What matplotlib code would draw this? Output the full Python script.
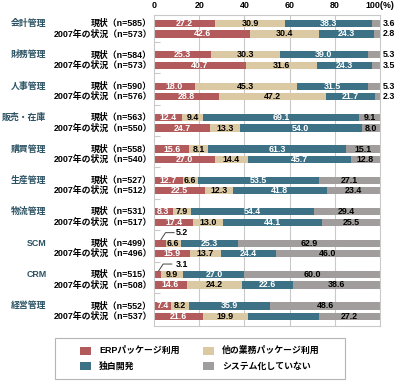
import matplotlib
matplotlib.use("Agg")
import matplotlib.pyplot as plt
import matplotlib.transforms as mtransforms
from matplotlib.patches import Rectangle

plt.rcParams['font.family'] = ['Liberation Sans', 'Noto Sans CJK JP', 'DejaVu Sans']
plt.rcParams['font.weight'] = 'bold'

# ---------------- data ----------------
categories = ["会計管理", "財務管理", "人事管理", "販売・在庫", "購買管理",
              "生産管理", "物流管理", "SCM", "CRM", "経営管理"]
row_names = ["現状", "2007年の状況"]
n_now = [585, 584, 590, 563, 558, 527, 531, 499, 515, 552]
n_2007 = [573, 573, 576, 550, 540, 512, 517, 496, 508, 537]
series_names = ["ERPパッケージ利用", "他の業務パッケージ利用", "独自開発", "システム化していない"]
colors = ["#B35A5C", "#DBC9A3", "#3D7186", "#A19D9D"]
label_colors = ["white", "black", "white", "black"]

erp_now = [27.2, 25.3, 18.0, 12.4, 15.6, 12.7, 8.3, 5.2, 3.1, 7.4]
erp_2007 = [42.6, 40.7, 28.8, 24.7, 27.0, 22.5, 17.4, 15.9, 14.6, 21.6]
other_now = [30.9, 30.3, 45.3, 9.4, 8.1, 6.6, 7.9, 6.6, 9.9, 8.2]
other_2007 = [30.4, 31.6, 47.2, 13.3, 14.4, 12.3, 13.0, 13.7, 24.2, 19.9]
own_now = [38.3, 39.0, 31.5, 69.1, 61.3, 53.5, 54.4, 25.3, 27.0, 35.9]
own_2007 = [24.3, 24.3, 21.7, 54.0, 45.7, 41.8, 44.1, 24.4, 22.6, 31.3]
none_now = [3.6, 5.3, 5.3, 9.1, 15.1, 27.1, 29.4, 62.9, 60.0, 48.6]
none_2007 = [2.8, 3.5, 2.3, 8.0, 12.8, 23.4, 25.5, 46.0, 38.6, 27.2]

xticks = [0, 20, 40, 60, 80, 100]
xtick_labels = ["0", "20", "40", "60", "80", "100(%)"]

# labels not printed in the original (overlapped)
hidden_labels = [("独自開発", "2007年の状況", "経営管理")]

series_now = [erp_now, other_now, own_now, none_now]
series_2007 = [erp_2007, other_2007, own_2007, none_2007]

# ---------------- layout ----------------
W, H = 400, 381
fig = plt.figure(figsize=(W / 100, H / 100), dpi=100)
ax_top, ax_bot = 14.5, 325.5
ax_left, ax_right = 154, 380
ax = fig.add_axes([ax_left / W, 1 - ax_bot / H, (ax_right - ax_left) / W, (ax_bot - ax_top) / H])
ax.set_xlim(0, 100)
ax.set_ylim(ax_bot, ax_top)

group_step = 31.38
first_row = 23.5
row_step = 10.4
bar_h = 7.2
fs = 6.4

grid_c = "#c9c9c9"
for s in ax.spines.values():
    s.set_color(grid_c)
    s.set_linewidth(0.8)
for x in xticks[1:-1]:
    ax.axvline(x, color=grid_c, lw=0.8, zorder=0)

ax.xaxis.tick_top()
ax.set_xticks(xticks)
ax.set_xticklabels(xtick_labels, fontsize=fs, fontweight='bold')
ax.tick_params(axis='x', length=0, pad=3.5)

boundaries = [first_row + i * group_step + row_step + 8 for i in range(len(categories) - 1)]
ax.set_yticks(boundaries)
ax.set_yticklabels([])
ax.tick_params(axis='y', direction='in', length=4, color=grid_c, width=0.8)

tr_lab = mtransforms.blended_transform_factory(fig.transFigure, ax.transData)

for gi, cat in enumerate(categories):
    y0 = first_row + gi * group_step
    ax.text(46.5 / W, y0, cat, transform=tr_lab, ha='right', va='center',
            fontsize=fs, fontweight='bold', color="#2B5263")
    for ri, (rname, nvals, sdata) in enumerate([(row_names[0], n_now, series_now),
                                                 (row_names[1], n_2007, series_2007)]):
        y = y0 + ri * row_step
        ax.text(152 / W, y, f"{rname}（n={nvals[gi]}）", transform=tr_lab, ha='right',
                va='center', fontsize=fs, fontweight='bold', color='black')
        left = 0
        for si, sname in enumerate(series_names):
            v = sdata[si][gi]
            ax.barh(y, v, left=left, height=bar_h, color=colors[si], edgecolor='none', zorder=2)
            txt = f"{v:.1f}"
            if (sname, rname, cat) not in hidden_labels:
                if si == 0 and v < 6:
                    xs = v / 2 + 0.5
                    ax.plot([xs, xs + 2.0, xs + 5.8], [y - bar_h / 2, y - 10.5, y - 10.5],
                            color='#444444', lw=0.7, zorder=3)
                    ax.text(9.6, y - 10.5, txt, ha='left', va='center', fontsize=fs,
                            fontweight='bold', color='black', zorder=4)
                elif si == 3 and v < 6:
                    ax.text(101.3, y, txt, ha='left', va='center', fontsize=fs,
                            fontweight='bold', color='black', clip_on=False, zorder=4)
                else:
                    ax.text(left + v / 2, y, txt, ha='center', va='center', fontsize=fs,
                            fontweight='bold', color=label_colors[si], zorder=4)
            left += v

# ---------------- legend (drawn in figure pixels) ----------------
def fx(x):
    return x / W

def fy(y):
    return 1 - y / H

fig.add_artist(Rectangle((fx(55), fy(379)), 290 / W, 41 / H, transform=fig.transFigure,
                         fill=False, ec="#b5b5b5", lw=0.8))
leg_order = [0, 2, 1, 3]
patch_x = [80, 203]
text_x = [99, 222]
row_y = [350.5, 366]
for k, si in enumerate(leg_order):
    col, row = k // 2, k % 2
    fig.add_artist(Rectangle((fx(patch_x[col]), fy(row_y[row] + 4)), 11 / W, 8 / H,
                             transform=fig.transFigure, color=colors[si], ec='none'))
    fig.text(fx(text_x[col]), fy(row_y[row]), series_names[si], ha='left', va='center',
             fontsize=fs, fontweight='bold', color='black')

fig.savefig("out.png", dpi=100)
